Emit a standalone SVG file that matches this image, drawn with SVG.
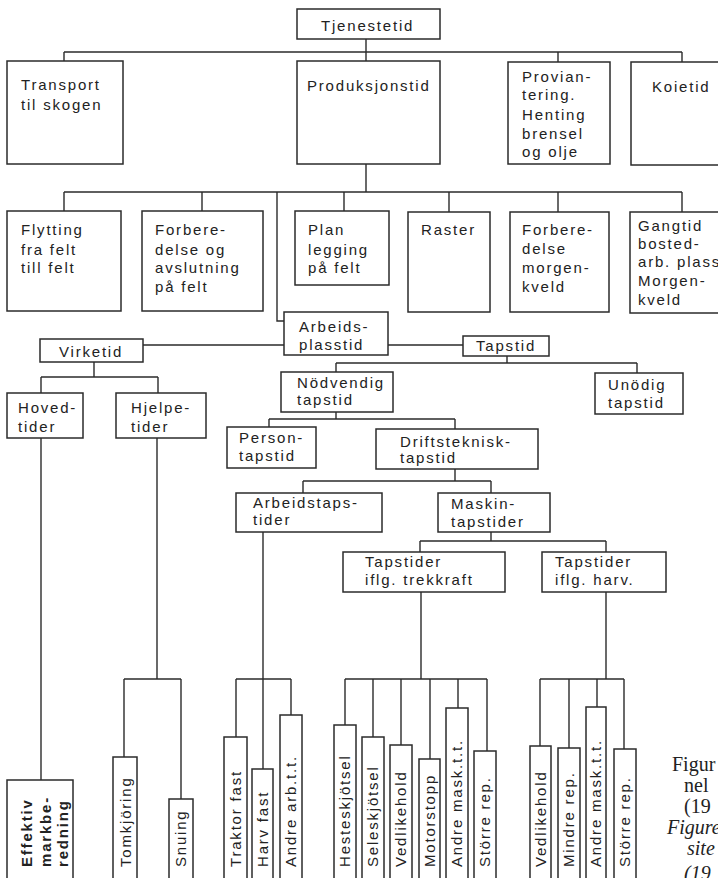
<svg xmlns="http://www.w3.org/2000/svg" width="718" height="878" viewBox="0 0 718 878">
<style>
.b{fill:#fff;stroke:#2b2b2b;stroke-width:1.5}
.t{font-family:"Liberation Sans",Arial,sans-serif;font-size:15px;letter-spacing:1.8px;fill:#222}
.tb{font-family:"Liberation Sans",Arial,sans-serif;font-size:15px;letter-spacing:1.8px;fill:#222;font-weight:bold}
.c{fill:none;stroke:#2b2b2b;stroke-width:1.4}
.cap{font-family:"Liberation Serif","Times New Roman",serif;font-size:20px;fill:#222}
.capi{font-family:"Liberation Serif","Times New Roman",serif;font-size:20px;fill:#222;font-style:italic}
</style>
<rect width="718" height="878" fill="#fff"/>
<g id="connectors" class="c">
<path d="M366,39V61M64,52H682M64,52V61M558,52V62M682,52V62"/>
<path d="M366,164V192M64,192H682M64,192V211M202,192V211M344,192V211M449,192V212M558,192V212M682,192V212M277,192V321H284"/>
<path d="M143,345H284M388,345H463"/>
<path d="M94,362V377M41,377H158M41,377V393M158,377V393"/>
<path d="M507,356V363M336,363H637M336,363V372M637,363V373"/>
<path d="M336,412V419M269,419H455M269,419V427M455,419V429"/>
<path d="M455,469V481M303,481H491M303,481V493M491,481V493"/>
<path d="M491,532V541M420,541H606M420,541V552M606,541V552"/>
<path d="M41,438V780"/>
<path d="M157,438V679M124,679H181M124,679V757M181,679V799"/>
<path d="M263,532V769M236,679H291M236,679V737M291,679V715"/>
<path d="M421,592V679M345,679H487M345,679V725M373,679V737M401,679V745M430,679V759M458,679V708M487,679V751"/>
<path d="M606,592V679M540,679H624M540,679V746M569,679V748M597,679V707M624,679V749"/>
</g>
<g id="tjenestetid"><rect class="b" x="297" y="9" width="143" height="30"/><text class="t" x="321" y="31">Tjenestetid</text></g>
<g id="transport"><rect class="b" x="7" y="61" width="116" height="103"/><text class="t" x="21" y="90">Transport</text><text class="t" x="21" y="110">til skogen</text></g>
<g id="produksjonstid"><rect class="b" x="297" y="61" width="143" height="103"/><text class="t" x="307" y="91">Produksjonstid</text></g>
<g id="proviantering"><rect class="b" x="508" y="62" width="102" height="102"/><text class="t" x="522" y="81.5">Provian-</text><text class="t" x="522" y="100">tering.</text><text class="t" x="522" y="119.5">Henting</text><text class="t" x="522" y="138.5">brensel</text><text class="t" x="522" y="157">og olje</text></g>
<g id="koietid"><rect class="b" x="631" y="62" width="100" height="103"/><text class="t" x="652" y="92">Koietid</text></g>
<g id="flytting"><rect class="b" x="7" y="211" width="114" height="100"/><text class="t" x="21" y="235">Flytting</text><text class="t" x="21" y="255">fra felt</text><text class="t" x="21" y="273">till felt</text></g>
<g id="forberedelse"><rect class="b" x="142" y="211" width="121" height="100"/><text class="t" x="155" y="235">Forbere-</text><text class="t" x="155" y="255">delse og</text><text class="t" x="155" y="273">avslutning</text><text class="t" x="155" y="292">på felt</text></g>
<g id="planlegging"><rect class="b" x="295" y="211" width="94" height="74"/><text class="t" x="308" y="235">Plan</text><text class="t" x="308" y="255">legging</text><text class="t" x="308" y="273">på felt</text></g>
<g id="raster"><rect class="b" x="408" y="212" width="82" height="100"/><text class="t" x="421" y="235">Raster</text></g>
<g id="forberedelse-morgen"><rect class="b" x="510" y="212" width="99" height="100"/><text class="t" x="522" y="235">Forbere-</text><text class="t" x="522" y="254">delse</text><text class="t" x="522" y="273">morgen-</text><text class="t" x="522" y="292">kveld</text></g>
<g id="gangtid"><rect class="b" x="630" y="212" width="100" height="101"/><text class="t" x="638" y="231">Gangtid</text><text class="t" x="638" y="249">bosted-</text><text class="t" x="638" y="267">arb. plass</text><text class="t" x="638" y="286">Morgen-</text><text class="t" x="638" y="305">kveld</text></g>
<g id="arbeidsplasstid"><rect class="b" x="284" y="312" width="104" height="43"/><text class="t" x="299" y="332">Arbeids-</text><text class="t" x="299" y="350">plasstid</text></g>
<g id="virketid"><rect class="b" x="40" y="339" width="103" height="23"/><text class="t" x="59" y="357">Virketid</text></g>
<g id="tapstid"><rect class="b" x="463" y="336" width="86" height="20"/><text class="t" x="476" y="351">Tapstid</text></g>
<g id="nodvendig"><rect class="b" x="281" y="372" width="112" height="40"/><text class="t" x="297" y="388">Nödvendig</text><text class="t" x="297" y="405">tapstid</text></g>
<g id="unodig"><rect class="b" x="595" y="373" width="88" height="41"/><text class="t" x="608" y="390">Unödig</text><text class="t" x="608" y="408">tapstid</text></g>
<g id="hovedtider"><rect class="b" x="7" y="393" width="76" height="45"/><text class="t" x="18" y="413">Hoved-</text><text class="t" x="18" y="432">tider</text></g>
<g id="hjelpetider"><rect class="b" x="116" y="393" width="90" height="45"/><text class="t" x="131" y="413">Hjelpe-</text><text class="t" x="131" y="432">tider</text></g>
<g id="persontapstid"><rect class="b" x="227" y="427" width="89" height="41"/><text class="t" x="239" y="443">Person-</text><text class="t" x="239" y="461">tapstid</text></g>
<g id="driftsteknisk"><rect class="b" x="376" y="429" width="162" height="40"/><text class="t" x="400" y="447">Driftsteknisk-</text><text class="t" x="400" y="463">tapstid</text></g>
<g id="arbeidstapstider"><rect class="b" x="236" y="493" width="146" height="39"/><text class="t" x="253" y="508">Arbeidstaps-</text><text class="t" x="253" y="525">tider</text></g>
<g id="maskintapstider"><rect class="b" x="438" y="493" width="112" height="39"/><text class="t" x="451" y="509">Maskin-</text><text class="t" x="451" y="527">tapstider</text></g>
<g id="tapstider-trekkraft"><rect class="b" x="343" y="552" width="162" height="40"/><text class="t" x="365" y="567">Tapstider</text><text class="t" x="365" y="585">iflg. trekkraft</text></g>
<g id="tapstider-harv"><rect class="b" x="542" y="552" width="124" height="40"/><text class="t" x="555" y="567">Tapstider</text><text class="t" x="555" y="585">iflg. harv.</text></g>
<g id="effektiv"><rect class="b" x="7" y="780" width="66" height="110"/><text class="tb" transform="translate(32,867) rotate(-90)">Effektiv</text><text class="tb" transform="translate(50.5,867) rotate(-90)">markbe-</text><text class="tb" transform="translate(68,867) rotate(-90)">redning</text></g>
<g id="tomkjoring"><rect class="b" x="113" y="757" width="24" height="133"/><text class="t" transform="translate(130.5,867) rotate(-90)">Tomkjöring</text></g>
<g id="snuing"><rect class="b" x="169" y="799" width="24" height="91"/><text class="t" transform="translate(186,867) rotate(-90)">Snuing</text></g>
<g id="traktor-fast"><rect class="b" x="224" y="737" width="23" height="153"/><text class="t" transform="translate(240.5,867) rotate(-90)">Traktor fast</text></g>
<g id="harv-fast"><rect class="b" x="252" y="769" width="21" height="121"/><text class="t" transform="translate(268,867) rotate(-90)">Harv fast</text></g>
<g id="andre-arb"><rect class="b" x="280" y="715" width="22" height="175"/><text class="t" transform="translate(296,867) rotate(-90)">Andre arb.t.t.</text></g>
<g id="hesteskjotsel"><rect class="b" x="334" y="725" width="22" height="165"/><text class="t" transform="translate(350,867) rotate(-90)">Hesteskjötsel</text></g>
<g id="seleskjotsel"><rect class="b" x="362" y="737" width="22" height="153"/><text class="t" transform="translate(378,867) rotate(-90)">Seleskjötsel</text></g>
<g id="vedlikehold-1"><rect class="b" x="390" y="745" width="22" height="145"/><text class="t" transform="translate(406,867) rotate(-90)">Vedlikehold</text></g>
<g id="motorstopp"><rect class="b" x="419" y="759" width="21" height="131"/><text class="t" transform="translate(434.5,867) rotate(-90)">Motorstopp</text></g>
<g id="andre-mask-1"><rect class="b" x="446" y="708" width="22" height="182"/><text class="t" transform="translate(462,867) rotate(-90)">Andre mask.t.t.</text></g>
<g id="storre-rep-1"><rect class="b" x="474" y="751" width="22" height="139"/><text class="t" transform="translate(490,867) rotate(-90)">Större rep.</text></g>
<g id="vedlikehold-2"><rect class="b" x="530" y="746" width="21" height="144"/><text class="t" transform="translate(545.5,867) rotate(-90)">Vedlikehold</text></g>
<g id="mindre-rep"><rect class="b" x="558" y="748" width="22" height="142"/><text class="t" transform="translate(574,867) rotate(-90)">Mindre rep.</text></g>
<g id="andre-mask-2"><rect class="b" x="586" y="707" width="20" height="183"/><text class="t" transform="translate(601,867) rotate(-90)">Andre mask.t.t.</text></g>
<g id="storre-rep-2"><rect class="b" x="614" y="749" width="22" height="141"/><text class="t" transform="translate(630,867) rotate(-90)">Större rep.</text></g>
<g id="caption">
<text class="cap" x="672" y="771">Figur</text>
<text class="cap" x="684" y="792">nel</text>
<text class="cap" x="684" y="813">(19</text>
<text class="capi" x="667" y="834">Figure</text>
<text class="capi" x="687" y="855">site</text>
<text class="capi" x="684" y="880">(19</text>
</g>
</svg>
